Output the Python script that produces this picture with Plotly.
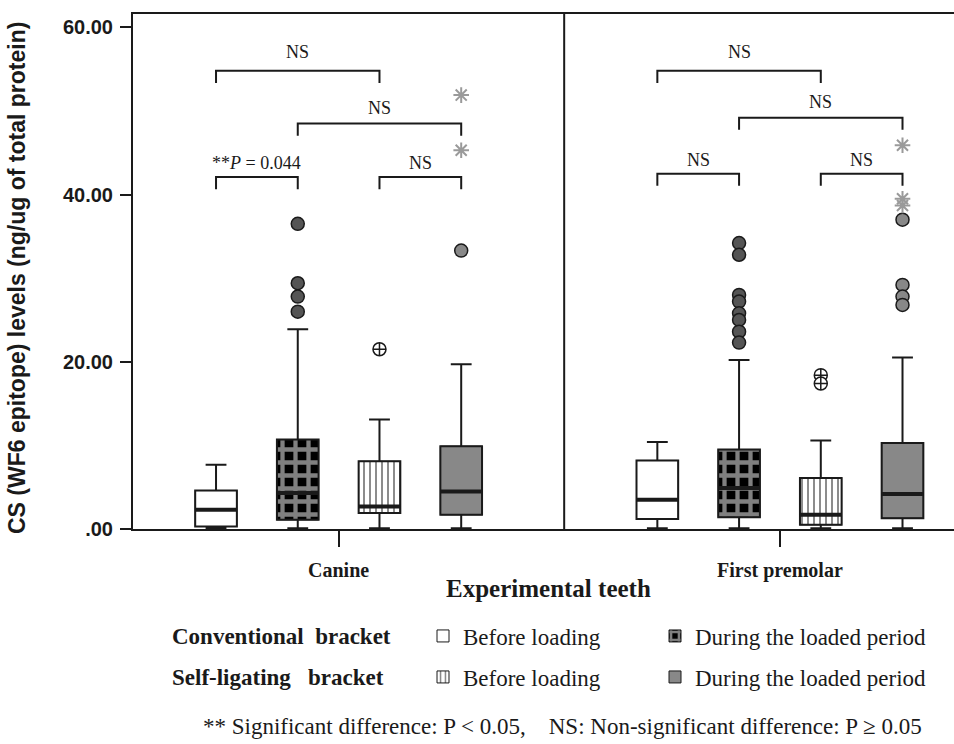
import plotly.graph_objects as go

# ---------------- data ----------------
teeth = ["Canine", "First premolar"]
series_keys = ["conv_before", "conv_loaded", "self_before", "self_loaded"]
series_labels = ["Before loading", "During the loaded period",
                 "Before loading", "During the loaded period"]
bracket_types = ["Conventional  bracket", "Self-ligating   bracket"]

# per series: [Canine, First premolar]
lower_fence = {"conv_before": [0.05, 0.1], "conv_loaded": [0.1, 0.1],
               "self_before": [0.1, 0.1], "self_loaded": [0.1, 0.1]}
q1 = {"conv_before": [0.3, 1.2], "conv_loaded": [1.1, 1.4],
      "self_before": [1.9, 0.5], "self_loaded": [1.7, 1.3]}
median = {"conv_before": [2.3, 3.5], "conv_loaded": [4.3, 4.9],
          "self_before": [2.7, 1.7], "self_loaded": [4.5, 4.2]}
q3 = {"conv_before": [4.6, 8.2], "conv_loaded": [10.7, 9.5],
      "self_before": [8.1, 6.1], "self_loaded": [9.9, 10.3]}
upper_fence = {"conv_before": [7.7, 10.4], "conv_loaded": [23.9, 20.2],
               "self_before": [13.1, 10.6], "self_loaded": [19.7, 20.5]}
outliers = {"conv_before": [[], []],
            "conv_loaded": [[36.5, 29.4, 27.8, 26.0],
                            [34.2, 32.8, 28.0, 27.2, 25.8, 25.0, 23.6, 22.3]],
            "self_before": [[21.5], [18.4, 17.4]],
            "self_loaded": [[33.3], [37.0, 29.2, 27.8, 26.8]]}
extremes = {"self_loaded": [[51.9, 45.3], [45.9, 39.5, 38.7]]}

# significance comparisons: pairs of series indices, labels per tooth, bracket heights
comparison_pairs = [(0, 2), (1, 3), (0, 1), (2, 3)]
comparison_labels = {"Canine": ["NS", "NS", "**<i>P</i> = 0.044", "NS"],
                     "First premolar": ["NS", "NS", "NS", "NS"]}
bracket_levels = {"Canine": [54.8, 48.5, 42.1, 42.1],
                  "First premolar": [54.8, 49.2, 42.5, 42.5]}

y_ticks = [0, 20, 40, 60]
y_ticktext = [".00", "20.00", "40.00", "60.00"]

footer = ("** Significant difference: P < 0.05,    "
          "NS: Non-significant difference: P ≥ 0.05")

# ---------------- layout / style constants ----------------
W, H = 954, 744
ML, MR, MT, MB = 133, 0, 14, 215
PW, PH = W - ML - MR, H - MT - MB
group_gap = 5.4
box_w = 0.51
x_range = [-1.016, 9.03]
y_range = [0, 61.6]
divider_x = 4.26
label_shift = [7, 4, 2, 2]
SERIF = "Liberation Serif"
SANS = "Liberation Sans"
INK = "#1a1a1a"


def paper_x(px):
    return (px - ML) / PW


def paper_y(py):
    return (H - MB - py) / PH


fills = {
    "conv_before": dict(color="white"),
    "conv_loaded": dict(color="white",
                        pattern=dict(shape="+", fgcolor="white", bgcolor="black",
                                     size=13, solidity=0.55)),
    "self_before": dict(color="white",
                        pattern=dict(shape="|", fgcolor="black", bgcolor="white",
                                     size=6, solidity=0.3)),
    "self_loaded": dict(color="#888888"),
}
outlier_style = {
    "conv_loaded": dict(symbol="circle", color="#555555"),
    "self_before": dict(symbol="circle-cross", color="white"),
    "self_loaded": dict(symbol="circle", color="#888888"),
}

positions = {k: [g * group_gap + i for g in range(len(teeth))]
             for i, k in enumerate(series_keys)}
px_per_x = PW / (x_range[1] - x_range[0])

fig = go.Figure()

legend_names = ["legend", "legend2", "legend3", "legend4"]

# pattern fills of the boxes (also provide the legend swatches)
for j, k in enumerate(series_keys):
    fig.add_trace(go.Bar(
        x=positions[k],
        y=[b - a for a, b in zip(q1[k], q3[k])],
        base=q1[k],
        width=box_w,
        marker=dict(line=dict(color=INK, width=1), **fills[k]),
        name=series_labels[j],
        legend=legend_names[j],
        showlegend=True,
        hoverinfo="skip",
    ))

# box outlines, whiskers and caps
for k in series_keys:
    fig.add_trace(go.Box(
        x=positions[k],
        q1=q1[k], median=median[k], q3=q3[k],
        lowerfence=lower_fence[k], upperfence=upper_fence[k],
        width=box_w, whiskerwidth=0.5,
        fillcolor="rgba(0,0,0,0)",
        line=dict(color=INK, width=2),
        boxpoints=False,
        showlegend=False,
    ))

# bold median lines (line-ew marker spans 1.4 x its size)
for k in series_keys:
    fig.add_trace(go.Scatter(
        x=positions[k], y=median[k], mode="markers",
        marker=dict(symbol="line-ew", size=box_w * px_per_x / 1.4,
                    line=dict(color=INK, width=4)),
        showlegend=False, hoverinfo="skip",
    ))

# outliers
for k in series_keys:
    xs, ys = [], []
    for g in range(len(teeth)):
        for v in outliers[k][g]:
            xs.append(positions[k][g])
            ys.append(v)
    if not xs:
        continue
    st = outlier_style[k]
    fig.add_trace(go.Scatter(
        x=xs, y=ys, mode="markers",
        marker=dict(symbol=st["symbol"], size=13, color=st["color"],
                    line=dict(color=INK, width=1.5)),
        showlegend=False,
    ))

# extreme values (stars)
for k, vals in extremes.items():
    xs, ys = [], []
    for g in range(len(teeth)):
        for v in vals[g]:
            xs.append(positions[k][g])
            ys.append(v)
    fig.add_trace(go.Scatter(
        x=xs, y=ys, mode="markers",
        marker=dict(symbol="asterisk-open", size=13, color="#9a9a9a",
                    line=dict(color="#9a9a9a", width=2)),
        showlegend=False,
    ))

# significance brackets
leg = 1.45
bx, by = [], []
annotations = []
for g, tooth in enumerate(teeth):
    for c, (a, b) in enumerate(comparison_pairs):
        xa = positions[series_keys[a]][g]
        xb = positions[series_keys[b]][g]
        h = bracket_levels[tooth][c]
        bx += [xa, xa, xb, xb, None]
        by += [h - leg, h, h, h - leg, None]
        annotations.append(dict(
            x=(xa + xb) / 2, y=h, xref="x", yref="y",
            text=comparison_labels[tooth][c], showarrow=False,
            yanchor="bottom", yshift=label_shift[c],
            font=dict(family=SERIF, size=18, color=INK)))
fig.add_trace(go.Scatter(x=bx, y=by, mode="lines",
                         line=dict(color=INK, width=2),
                         showlegend=False, hoverinfo="skip"))

# axis titles and legend row headers
annotations.append(dict(
    text="CS (WF6 epitope) levels (ng/ug of total protein)",
    xref="paper", yref="paper", x=0, y=paper_y(278), xshift=-116,
    xanchor="center", yanchor="middle", textangle=-90, showarrow=False,
    font=dict(family=SANS, size=23, color=INK, weight="bold")))
annotations.append(dict(
    text="Experimental teeth", xref="paper", yref="paper",
    x=paper_x(548), y=paper_y(588), xanchor="center", yanchor="middle",
    showarrow=False, font=dict(family=SERIF, size=25, color=INK, weight="bold")))
row_y = [636, 677]
for r, t in enumerate(bracket_types):
    annotations.append(dict(
        text=t, xref="paper", yref="paper", x=paper_x(170), y=paper_y(row_y[r]),
        xanchor="left", yanchor="middle", showarrow=False,
        font=dict(family=SERIF, size=23, color=INK, weight="bold")))
annotations.append(dict(
    text=footer, xref="paper", yref="paper", x=paper_x(562), y=paper_y(726),
    xanchor="center", yanchor="middle", showarrow=False,
    font=dict(family=SERIF, size=23, color=INK)))

col_x = [423, 655]
legends = {}
for j, name in enumerate(legend_names):
    legends[name] = dict(
        x=paper_x(col_x[j % 2]), y=paper_y(row_y[j // 2]),
        xanchor="left", yanchor="middle", orientation="h",
        font=dict(family=SERIF, size=23, color=INK),
        bgcolor="rgba(0,0,0,0)", borderwidth=0,
        itemclick=False, itemdoubleclick=False)

fig.update_layout(
    width=W, height=H,
    margin=dict(l=ML, r=MR, t=MT, b=MB),
    paper_bgcolor="white", plot_bgcolor="white",
    barmode="overlay", boxmode="overlay",
    annotations=annotations,
    shapes=[dict(type="line", xref="x", yref="paper", x0=divider_x, x1=divider_x,
                 y0=0, y1=1, line=dict(color=INK, width=2))],
    **legends,
)
fig.update_xaxes(
    range=x_range, showgrid=False, zeroline=False,
    showline=True, linecolor=INK, linewidth=2, mirror=True,
    tickmode="array",
    tickvals=[(positions[series_keys[0]][g] + positions[series_keys[-1]][g]) / 2
              for g in range(len(teeth))],
    ticktext=teeth, ticks="outside", ticklen=16, tickwidth=2, tickcolor=INK,
    ticklabelstandoff=6,
    tickfont=dict(family=SERIF, size=20, color=INK, weight="bold"),
)
fig.update_yaxes(
    range=y_range, showgrid=False, zeroline=False,
    showline=True, linecolor=INK, linewidth=2,
    tickmode="array", tickvals=y_ticks, ticktext=y_ticktext,
    ticks="outside", ticklen=11, tickwidth=2, tickcolor=INK,
    ticklabelstandoff=3,
    tickfont=dict(family=SANS, size=20, color=INK, weight="bold"),
)

fig.write_html(
    "out.html",
    config={"displayModeBar": False},
    post_script="document.body.style.margin='0';document.body.style.overflow='hidden';",
)
